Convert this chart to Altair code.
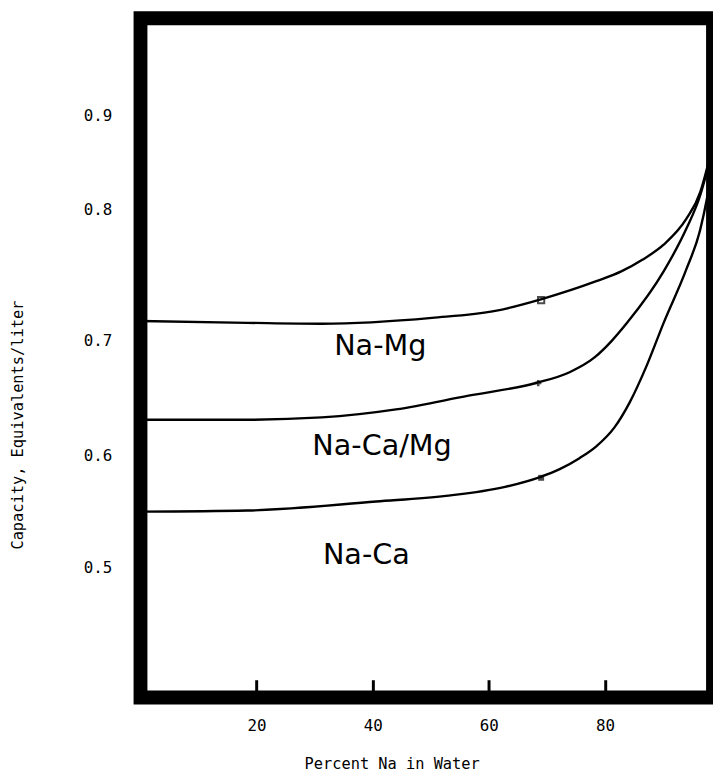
import altair as alt
import pandas as pd

# ---- data ----
series_names = ["Na-Mg", "Na-Ca/Mg", "Na-Ca"]

na_mg_x = [0, 18.4, 31.2, 50.2, 61.1, 69.1, 78.5, 82.8, 86.5, 90.1, 94.0, 96.4, 97.6, 98.6]
na_mg_y = [0.715, 0.7136, 0.7129, 0.7174, 0.7227, 0.7318, 0.7455, 0.753, 0.7621, 0.7735, 0.7932, 0.8188, 0.8448, 0.871]

na_camg_x = [0, 18.4, 31.2, 44.0, 56.5, 68.1, 73.9, 78.2, 81.2, 83.8, 90.1, 94.0, 96.4, 97.6, 98.6]
na_camg_y = [0.631, 0.631, 0.633, 0.640, 0.652, 0.663, 0.6724, 0.6853, 0.700, 0.7136, 0.753, 0.7856, 0.8156, 0.8417, 0.866]

na_ca_x = [0, 18.4, 40.6, 52.6, 62.8, 68.8, 72.2, 75.6, 78.5, 81.6, 84.3, 87.2, 90.1, 94.0, 96.4, 97.6, 98.6]
na_ca_y = [0.550, 0.551, 0.559, 0.564, 0.572, 0.5807, 0.5877, 0.5974, 0.6078, 0.6241, 0.6466, 0.6784, 0.7136, 0.7545, 0.785, 0.8135, 0.850]

marker_x = [69, 68.5, 69]
marker_y = [0.731, 0.663, 0.580]

label_text = ["Na-Mg", "Na-Ca/Mg", "Na-Ca"]
label_x = [41.3, 41.6, 38.9]
label_y = [0.695, 0.608, 0.511]

x_ticks = [20, 40, 60, 80]
y_ticks = [0.5, 0.6, 0.7, 0.8, 0.9]

# ---- tables ----
rows = []
for name, xs, ys in zip(series_names, [na_mg_x, na_camg_x, na_ca_x], [na_mg_y, na_camg_y, na_ca_y]):
    for xv, yv in zip(xs, ys):
        rows.append({"series": name, "x": xv, "y": yv})
lines_df = pd.DataFrame(rows)
markers_df = pd.DataFrame({"series": series_names, "x": marker_x, "y": marker_y})
labels_df = pd.DataFrame({"text": label_text, "x": label_x, "y": label_y})

MONO = "DejaVu Sans Mono"

xscale = alt.Scale(domain=[0, 98.6], nice=False, zero=False)
# the scanned figure's tick labels are not evenly spaced; a piecewise scale reproduces that
yscale = alt.Scale(domain=[0.385, 0.5, 0.6, 0.7, 0.8, 0.9, 1.002],
                   range=[687, 556, 442, 326, 194, 98, 0], nice=False, zero=False)

xaxis = alt.Axis(values=x_ticks, title="Percent Na in Water", format="d",
                 labelFont=MONO, labelFontSize=16, labelColor="black",
                 labelBaseline="middle", labelPadding=28,
                 titleFont=MONO, titleFontSize=15.5, titleFontWeight="normal", titleColor="black",
                 titleX=254, titleY=85, titleAlign="center", titleBaseline="middle",
                 domain=False, grid=False, ticks=True, tickSize=18, tickWidth=3,
                 tickColor="black", offset=-18)
yaxis = alt.Axis(values=y_ticks, title="Capacity, Equivalents/liter", format=".1f",
                 labelFont=MONO, labelFontSize=16, labelColor="black", labelPadding=29,
                 titleFont=MONO, titleFontSize=15.5, titleFontWeight="normal", titleColor="black",
                 titleAngle=270, titleX=-124, titleY=411, titleAlign="center", titleBaseline="middle",
                 domain=False, grid=False, ticks=False)

lines = alt.Chart(lines_df).mark_line(color="black", strokeWidth=2.4, interpolate="monotone", clip=True).encode(
    x=alt.X("x:Q", scale=xscale, axis=xaxis),
    y=alt.Y("y:Q", scale=yscale, axis=yaxis),
    detail="series:N",
)

pts_open = alt.Chart(markers_df.iloc[[0]]).mark_point(shape="square", filled=False, color="black", size=40, strokeWidth=2).encode(
    x=alt.X("x:Q", scale=xscale), y=alt.Y("y:Q", scale=yscale))
pts_cross = alt.Chart(markers_df.iloc[[1]]).mark_point(shape="cross", filled=True, color="black", size=40).encode(
    x=alt.X("x:Q", scale=xscale), y=alt.Y("y:Q", scale=yscale))
pts_fill = alt.Chart(markers_df.iloc[[2]]).mark_point(shape="square", filled=True, color="black", size=36).encode(
    x=alt.X("x:Q", scale=xscale), y=alt.Y("y:Q", scale=yscale))

labels = alt.Chart(labels_df).mark_text(font="DejaVu Sans", fontSize=29, color="black",
                                         align="center", baseline="middle").encode(
    x=alt.X("x:Q", scale=xscale), y=alt.Y("y:Q", scale=yscale), text="text:N")

chart = alt.layer(lines, pts_open, pts_cross, pts_fill, labels).properties(
    width=579, height=687,
    autosize=alt.AutoSizeParams(type="none"),
    padding={"left": 134, "top": 6, "right": 0, "bottom": 74},
    background="white",
).configure_view(stroke="black", strokeWidth=14)

chart.save("out.html", embed_options={"renderer": "svg", "actions": False})
